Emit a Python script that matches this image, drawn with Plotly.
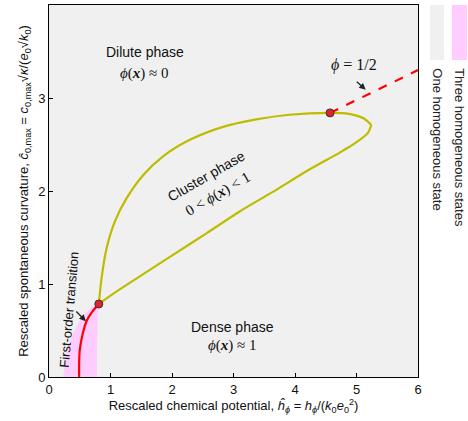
import plotly.graph_objects as go

# cluster-phase boundary, upper branch (lower critical point -> nose)
up_h = [0.81, 0.854, 0.935, 1.07, 1.26, 1.53, 1.85, 2.29, 2.83, 3.37, 3.91, 4.57, 4.88, 5.12, 5.24]
up_c = [0.785, 1.06, 1.38, 1.67, 1.92, 2.17, 2.37, 2.55, 2.69, 2.77, 2.82, 2.84, 2.83, 2.78, 2.71]
# lower branch (nose -> lower critical point)
lo_h = [5.24, 5.18, 4.92, 4.72, 4.18, 3.64, 3.10, 2.56, 2.01, 1.47, 1.10, 0.81]
lo_c = [2.71, 2.62, 2.49, 2.41, 2.21, 1.99, 1.78, 1.545, 1.31, 1.08, 0.92, 0.785]

# first-order transition line
fo_h = [0.49, 0.50, 0.55, 0.61, 0.69, 0.81]
fo_c = [0.0, 0.29, 0.47, 0.60, 0.69, 0.785]

# phi = 1/2 line
half_h = [4.57, 6.0]
half_c = [2.84, 3.30]

# region with three homogeneous states
pink_h = [0.23, 0.29, 0.39, 0.50, 0.61, 0.74, 0.81, 0.79, 0.78, 0.78, 0.23]
pink_c = [0.0, 0.29, 0.47, 0.60, 0.70, 0.77, 0.785, 0.6, 0.3, 0.0, 0.0]

crit_h = [0.81, 4.57]
crit_c = [0.785, 2.84]

GRAY = "#f0f0f0"
PINK = "#ffccff"
YELLOW = "#bdbd00"
FONT = "Liberation Sans"
SERIF = "Liberation Serif"

fig = go.Figure()
fig.add_trace(go.Scatter(x=pink_h, y=pink_c, fill="toself", fillcolor=PINK,
                         line=dict(width=0), mode="lines", hoverinfo="skip"))
for bh, bc in [(up_h, up_c), (lo_h, lo_c)]:
    fig.add_trace(go.Scatter(x=bh, y=bc, mode="lines",
                             line=dict(color=YELLOW, width=2.2, shape="spline", smoothing=0.8)))
fig.add_trace(go.Scatter(x=fo_h, y=fo_c, mode="lines",
                         line=dict(color="red", width=2.2, shape="spline")))
fig.add_trace(go.Scatter(x=half_h, y=half_c, mode="lines",
                         line=dict(color="red", width=2.2, dash="dash")))
fig.add_trace(go.Scatter(x=crit_h, y=crit_c, mode="markers",
                         marker=dict(color="#e8202a", size=8, line=dict(color="#333", width=1))))

def label(x, y, text, size=14, family=FONT, angle=0):
    fig.add_annotation(x=x, y=y, text=text, showarrow=False, textangle=angle,
                       font=dict(family=family, size=size, color="#111"))

label(1.56, 3.49, "Dilute phase")
label(1.56, 3.26, "<i>ϕ</i>(<b><i>x</i></b>) ≈ 0", size=15, family=SERIF)
label(2.56, 2.16, "Cluster phase", angle=-30)
label(2.74, 1.96, "0 &lt; <i>ϕ</i>(<b><i>x</i></b>) &lt; 1", size=15, family=SERIF, angle=-30)
label(2.99, 0.54, "Dense phase")
label(2.99, 0.34, "<i>ϕ</i>(<b><i>x</i></b>) ≈ 1", size=15, family=SERIF)
label(0.32, 0.72, "First-order transition", size=13, angle=-85)
label(4.96, 3.36, "<i>ϕ</i> = 1/2", size=16, family=SERIF)

arrows = [((0.42, 0.72), (0.60, 0.60)), ((4.98, 3.19), (5.15, 3.09))]
for (tx, ty), (hx, hy) in arrows:
    fig.add_annotation(x=hx, y=hy, ax=tx, ay=ty, xref="x", yref="y", axref="x", ayref="y",
                       text="", showarrow=True, arrowhead=2, arrowsize=1, arrowwidth=1.3,
                       arrowcolor="#222")

# legend patches at the right
fig.add_shape(type="rect", xref="paper", yref="paper", x0=1.0325, x1=1.0705, y0=0.852, y1=1.0,
              fillcolor=GRAY, line=dict(width=0))
fig.add_shape(type="rect", xref="paper", yref="paper", x0=1.092, x1=1.133, y0=0.852, y1=1.0,
              fillcolor=PINK, line=dict(width=0))
for xp, txt in [(1.0534, "One homogeneous state"), (1.112, "Three homogeneous states")]:
    fig.add_annotation(x=xp, y=0.836, xref="paper", yref="paper", text=txt, showarrow=False,
                       textangle=90, yanchor="top", xanchor="center",
                       font=dict(family=FONT, size=13, color="#222"))

axis = dict(showgrid=False, zeroline=False, ticks="inside", ticklen=4, tickcolor="black",
            showline=True, linecolor="black", linewidth=1, mirror=True,
            tickfont=dict(family=FONT, size=13, color="#111"))
fig.update_xaxes(range=[0, 6], dtick=1, **axis,
                 title=dict(text="Rescaled chemical potential, <i>ĥ</i><sub><i>ϕ</i></sub> = "
                            "<i>h</i><sub><i>ϕ</i></sub>/(<i>k</i><sub>0</sub><i>e</i><sub>0</sub><sup>2</sup>)",
                            font=dict(family=FONT, size=13, color="#111"), standoff=4))
fig.update_yaxes(range=[0, 4], dtick=1, **axis,
                 title=dict(text="Rescaled spontaneous curvature, <i>ĉ</i><sub>0,max</sub> = "
                            "<i>c</i><sub>0,max</sub>√<i>κ</i>/(<i>e</i><sub>0</sub>√<i>k</i><sub>0</sub>)",
                            font=dict(family=FONT, size=13, color="#111"), standoff=6))
fig.update_layout(width=468, height=421, showlegend=False,
                  margin=dict(l=49, r=50, t=5, b=44),
                  plot_bgcolor=GRAY, paper_bgcolor="white")
fig.write_html("out.html", config={"displayModeBar": False},
               post_script="document.body.style.margin='0';")
